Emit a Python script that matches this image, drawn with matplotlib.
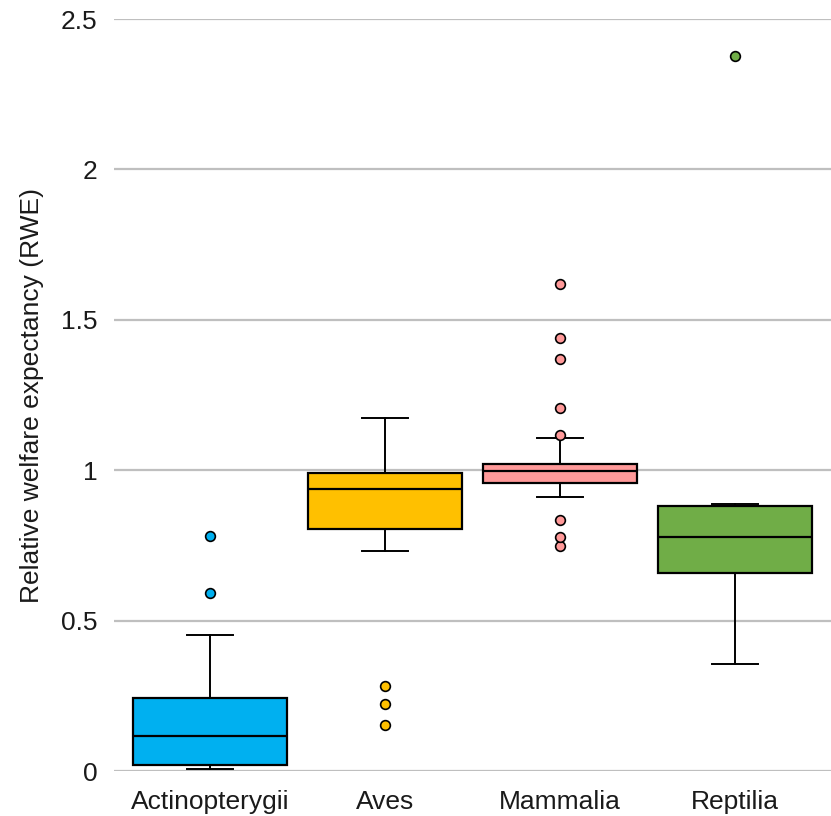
import matplotlib.pyplot as plt

plt.rcParams['font.family'] = ['Liberation Sans', 'DejaVu Sans']

# box statistics
classes = ['Actinopterygii', 'Aves', 'Mammalia', 'Reptilia']
q1 = [0.02, 0.806, 0.959, 0.659]
med = [0.117, 0.939, 0.997, 0.779]
q3 = [0.243, 0.992, 1.022, 0.882]
whislo = [0.007, 0.732, 0.912, 0.356]
whishi = [0.453, 1.172, 1.108, 0.889]
outliers = [
    [0.593, 0.783],
    [0.153, 0.223, 0.283],
    [0.749, 0.779, 0.836, 1.118, 1.208, 1.371, 1.438, 1.618],
    [2.377],
]
colors = ['#00B0F0', '#FFC000', '#FF9999', '#70AD47']

stats = []
for i, name in enumerate(classes):
    stats.append({'label': name, 'q1': q1[i], 'med': med[i], 'q3': q3[i],
                  'whislo': whislo[i], 'whishi': whishi[i], 'fliers': outliers[i]})

fig = plt.figure(figsize=(8.31, 8.16), dpi=100)
ax = fig.add_axes([0.1372, 0.0551, 0.8628, 0.9216])

bp = ax.bxp(stats, positions=range(len(classes)), widths=0.88, patch_artist=True,
            showcaps=True,
            boxprops=dict(edgecolor='black', linewidth=1.6),
            medianprops=dict(color='black', linewidth=1.6),
            whiskerprops=dict(color='black', linewidth=1.4),
            capprops=dict(color='black', linewidth=1.4),
            flierprops=dict(marker='o', markersize=7, markeredgecolor='black',
                            markeredgewidth=1.2))
for patch, c in zip(bp['boxes'], colors):
    patch.set_facecolor(c)
for fl, c in zip(bp['fliers'], colors):
    fl.set_markerfacecolor(c)
for cap in bp['caps']:
    x = cap.get_xdata()
    mid = (x[0] + x[1]) / 2
    cap.set_xdata([mid - 0.13, mid + 0.13])

ax.set_xlim(-0.55, 3.55)
ax.set_ylim(0, 2.5)
ax.set_yticks([0, 0.5, 1, 1.5, 2, 2.5])
ax.set_yticklabels(['0', '0.5', '1', '1.5', '2', '2.5'])
ax.yaxis.grid(True, color='#BFBFBF', linewidth=1.6)
ax.set_axisbelow(True)
for s in ax.spines.values():
    s.set_visible(False)
ax.tick_params(axis='both', length=0, labelsize=19, colors='#1a1a1a')
ax.tick_params(axis='y', pad=12)
ax.tick_params(axis='x', pad=14)
ax.set_ylabel('Relative welfare expectancy (RWE)', fontsize=19, color='#1a1a1a', labelpad=12)

plt.savefig('out.png', dpi=100)
